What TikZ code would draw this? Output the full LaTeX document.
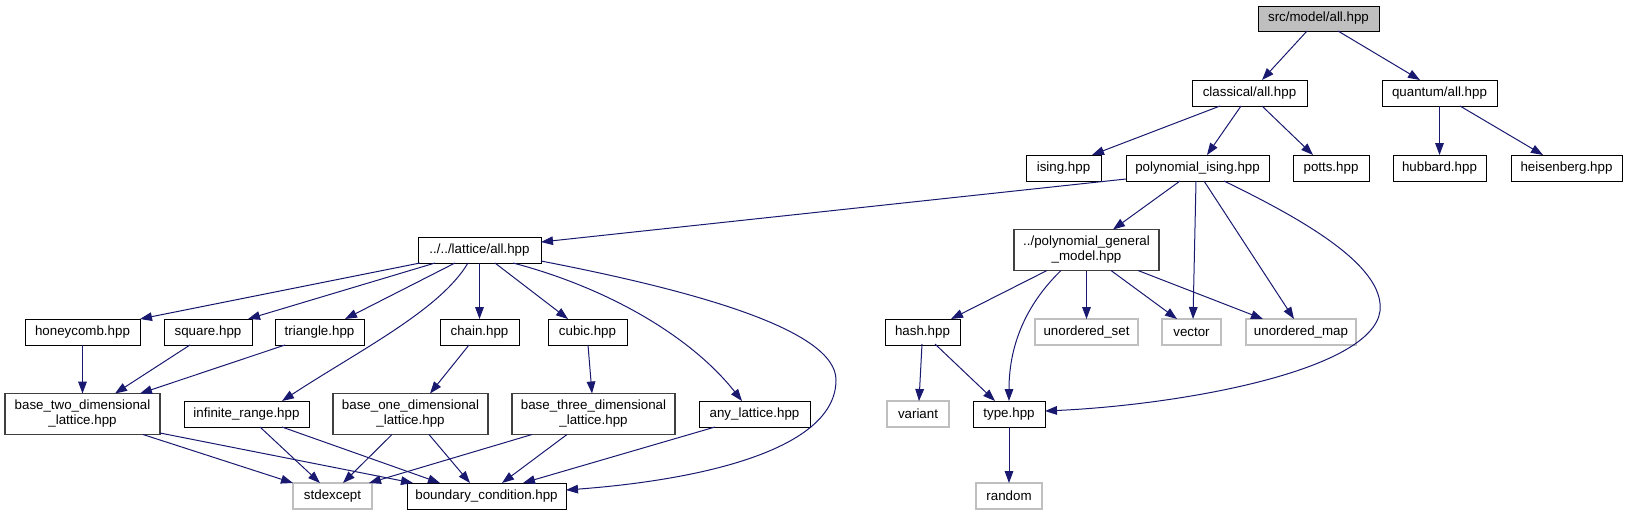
\documentclass[tikz,border=0pt]{standalone}
\usepackage{fontspec}
\setmainfont{Liberation Sans}
\usetikzlibrary{arrows.meta,calc}
\definecolor{edgeblue}{HTML}{191970}
\definecolor{greyA}{HTML}{BFBFBF}
\definecolor{greyB}{HTML}{404040}
\newcommand\edg[4]{\draw[edge] ($(#1)+(#2)$) -- ($(#3)+(#4)$);}
\begin{document}
\begin{tikzpicture}[x=0.75pt,y=-0.75pt,
  nd/.style 2 args={draw=black, fill=white, line width=0.65pt, minimum width=#1*0.75pt,
    minimum height=#2*0.75pt, inner sep=0pt, align=center,
    font=\fontsize{10}{11.3}\selectfont},
  two/.style={draw=greyB, line width=0.8pt},
  sys/.style={draw=greyA, line width=0.8pt},
  edge/.style={draw=edgeblue, line width=0.75pt, -{Triangle[length=9pt,width=6.5pt]}}]
\useasboundingbox (0,0) rectangle (1627,515);
% nodes
\node[nd={121}{25}, fill=greyA] (root) at (1318.5,18.5) {src/model/all.hpp};
\node[nd={115}{26}] (classical) at (1249.5,93) {classical/all.hpp};
\node[nd={115}{26}] (quantum) at (1439.5,93) {quantum/all.hpp};
\node[nd={75}{26}] (ising) at (1063.5,168) {ising.hpp};
\node[nd={143}{26}] (poly) at (1197.5,168) {polynomial\_ising.hpp};
\node[nd={76}{26}] (potts) at (1331,168) {potts.hpp};
\node[nd={93}{26}] (hubbard) at (1439.5,168) {hubbard.hpp};
\node[nd={111}{26}] (heis) at (1566.5,168) {heisenberg.hpp};
\node[nd={123}{26}] (lattice) at (479.5,250) {../../lattice/all.hpp};
\node[nd={145}{41}, two] (polygen) at (1086.5,250) {../polynomial\_general\\\_model.hpp};
\node[nd={115}{26}] (honey) at (82.5,332) {honeycomb.hpp};
\node[nd={88}{26}] (square) at (208,332) {square.hpp};
\node[nd={89}{26}] (tri) at (319.5,332) {triangle.hpp};
\node[nd={79}{26}] (chain) at (479.5,332) {chain.hpp};
\node[nd={79}{26}] (cubic) at (587.5,332) {cubic.hpp};
\node[nd={75}{26}] (hash) at (922.5,332) {hash.hpp};
\node[nd={103}{26}, sys] (uset) at (1086.5,332) {unordered\_set};
\node[nd={59}{26}, sys] (vector) at (1191.5,332) {vector};
\node[nd={110}{26}, sys] (umap) at (1301,332) {unordered\_map};
\node[nd={155}{41}, two] (base2) at (82.5,414) {base\_two\_dimensional\\\_lattice.hpp};
\node[nd={125}{26}] (inf) at (246.5,414) {infinite\_range.hpp};
\node[nd={155}{41}, two] (base1) at (410.5,414) {base\_one\_dimensional\\\_lattice.hpp};
\node[nd={163}{41}, two] (base3) at (593.5,414) {base\_three\_dimensional\\\_lattice.hpp};
\node[nd={111}{26}] (anylat) at (754.5,414) {any\_lattice.hpp};
\node[nd={62}{26}, sys] (variant) at (918,414) {variant};
\node[nd={72}{26}] (type) at (1009,414) {type.hpp};
\node[nd={79}{26}, sys] (stdexc) at (332.5,496) {stdexcept};
\node[nd={159}{26}] (bound) at (486.5,496) {boundary\_condition.hpp};
\node[nd={66}{26}, sys] (random) at (1009,496) {random};
\coordinate (m1) at (836,380);
\coordinate (m2) at (1380,311);
% edges
\edg{root}{-11.5,12.5}{classical}{12.5,-13}
\edg{root}{19.5,12.5}{quantum}{-19.5,-13}
\edg{classical}{-29.5,13}{ising}{28.5,-13}
\edg{classical}{-8.5,13}{poly}{9.5,-13}
\edg{classical}{12.5,13}{potts}{-18,-13}
\edg{quantum}{0,13}{hubbard}{0,-13}
\edg{quantum}{20.5,13}{heis}{-23.5,-13}
\edg{poly}{-71.5,11}{lattice}{61.5,-8}
\edg{poly}{-17.5,13}{polygen}{26.5,-20.5}
\edg{poly}{-1.5,13}{vector}{1.5,-13}
\edg{poly}{6.5,13}{umap}{-7,-13}
\draw[edge] ($(poly)+(26.5,13)$) .. controls +(76,37) and +(5,-46) .. (m2)
  .. controls +(-8,60) and +(135,-6) .. ($(type)+(36,-3)$);
\edg{polygen}{-39.5,20.5}{hash}{28.5,-13}
\draw[edge] ($(polygen)+(-25.5,20.5)$) .. controls +(-31,30) and +(0,-61) .. ($(type)+(0,-13)$);
\edg{polygen}{0,20.5}{uset}{0,-13}
\edg{polygen}{24.5,20.5}{vector}{-14.5,-13}
\edg{polygen}{51.5,20.5}{umap}{-38,-13}
\edg{hash}{-0.5,12}{variant}{1,-13}
\edg{hash}{12.5,12}{type}{-14,-13}
\edg{type}{0,13}{random}{0,-13}
\edg{lattice}{-59.5,13}{honey}{57.5,-13}
\edg{lattice}{-44.5,13}{square}{40,-13}
\edg{lattice}{-24.5,13}{tri}{25.5,-13}
\draw[edge] ($(lattice)+(-11.5,13)$) .. controls +(-28,47) and +(78,-51) .. ($(inf)+(35.5,-13)$);
\edg{lattice}{0,13}{chain}{0,-13}
\edg{lattice}{15.5,13}{cubic}{-19.5,-13}
\draw[edge] ($(lattice)+(33.5,13)$) .. controls +(92,24) and +(-52,-66) .. ($(anylat)+(-12.5,-13)$);
\draw[edge] ($(lattice)+(61.5,11)$) .. controls +(155,30) and +(0,-50) .. (m1)
  .. controls +(0,70) and +(134,-10) .. ($(bound)+(79.5,-6)$);
\edg{honey}{0,13}{base2}{0,-20.5}
\edg{square}{-18,13}{base2}{32.5,-20.5}
\edg{tri}{-34.5,13}{base2}{57.5,-20.5}
\edg{chain}{-10.5,13}{base1}{19.5,-20.5}
\edg{cubic}{0.5,13}{base3}{-1.5,-20.5}
\edg{base2}{60.5,20.5}{stdexc}{-39.5,-13}
\edg{base2}{77.5,19}{bound}{-73.5,-13}
\edg{inf}{13.5,13}{stdexc}{-12.5,-13}
\edg{inf}{35.5,13}{bound}{-46.5,-13}
\edg{base1}{-18.5,20.5}{stdexc}{10.5,-13}
\edg{base1}{18.5,20.5}{bound}{-16.5,-13}
\edg{base3}{-61.5,20.5}{stdexc}{36.5,-13}
\edg{base3}{-26.5,20.5}{bound}{15.5,-13}
\edg{anylat}{-39.5,13}{bound}{36.5,-13}
\end{tikzpicture}
\end{document}
